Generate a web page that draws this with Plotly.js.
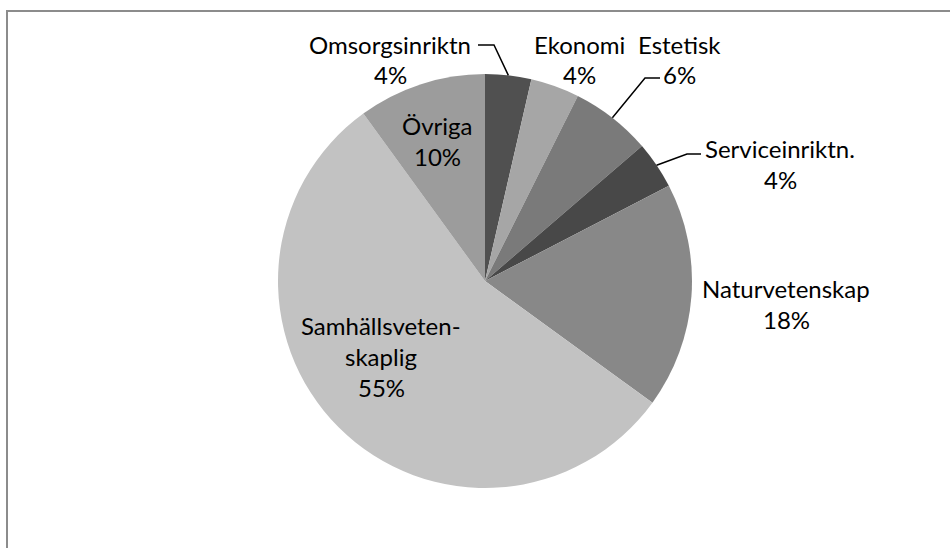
<!DOCTYPE html>
<html>
<head>
<meta charset="utf-8">
<script src="https://cdn.plot.ly/plotly-3.0.1.min.js"></script>
<style>html,body{margin:0;padding:0;background:#fff;overflow:hidden;width:950px;height:548px;}#chart{position:absolute;left:0;top:0;width:950px;height:548px;}</style>
</head>
<body>
<div id="chart"></div>
<script>
// ---- data ----
var categories = ['Omsorgsinriktn', 'Ekonomi', 'Estetisk', 'Serviceinriktn.', 'Naturvetenskap', 'Samhällsvetenskaplig', 'Övriga'];
var displayLabels = ['Omsorgsinriktn', 'Ekonomi', 'Estetisk', 'Serviceinriktn.', 'Naturvetenskap', 'Samhällsveten-<br>skaplig', 'Övriga'];
var shares = [3.6, 3.8, 6.3, 3.7, 17.6, 55, 10];
var sliceColors = ['#505050', '#a6a6a6', '#7a7a7a', '#484848', '#888888', '#c2c2c2', '#9c9c9c'];

// ---- layout constants (pixels) ----
var W = 950, H = 548;
var CX = 485, CY = 281, R = 207;
var FONT = 'Lato, "Open Sans", sans-serif';
var FS = 24, LINE = 31;
// label block position: center x, center y of first line
var labelPos = [
  [390, 44], [579, 44], [679, 44], [780, 149], [786, 288], [381, 325], [437, 125]
];
// leader lines: [elbow, end] for slices that have them
var leaders = {0: [[494, 45], [478, 45]], 2: [[645, 78], [660, 78]], 3: [[687, 154], [701, 154]]};

function px(x) { return x / W; }
function py(y) { return 1 - y / H; }

var total = shares.reduce(function (a, b) { return a + b; }, 0);

var trace = {
  type: 'pie',
  labels: categories,
  values: shares,
  sort: false,
  direction: 'clockwise',
  rotation: 0,
  marker: { colors: sliceColors, line: { width: 0 } },
  textinfo: 'none',
  hoverinfo: 'label+percent',
  showlegend: false,
  domain: { x: [px(CX - R), px(CX + R)], y: [py(CY + R), py(CY - R)] }
};

var annotations = [];
var shapes = [];
var cum = 0;
shares.forEach(function (v, i) {
  var mid = (cum + v / 2) / total * 2 * Math.PI;
  cum += v;
  var pct = Math.round(v / total * 100) + '%';
  var lines = displayLabels[i].split('<br>').concat([pct]);
  lines.forEach(function (t, k) {
    annotations.push({
      xref: 'paper', yref: 'paper',
      x: px(labelPos[i][0]), y: py(labelPos[i][1] + k * LINE),
      xanchor: 'center', yanchor: 'middle',
      text: t, showarrow: false,
      font: { family: FONT, size: FS, color: '#000' }
    });
  });
  if (leaders[i]) {
    var ax = CX + R * Math.sin(mid), ay = CY - R * Math.cos(mid);
    var e = leaders[i][0], f = leaders[i][1];
    shapes.push({
      type: 'path', xref: 'paper', yref: 'paper',
      path: 'M' + px(ax) + ',' + py(ay) + ' L' + px(e[0]) + ',' + py(e[1]) + ' L' + px(f[0]) + ',' + py(f[1]),
      line: { color: '#000', width: 1.5 }
    });
  }
});

// chart area frame: left and top edges (the rest lies outside the picture)
shapes.push({
  type: 'line', xref: 'paper', yref: 'paper',
  x0: px(7), x1: px(7), y0: -0.01, y1: py(11),
  line: { color: '#8c8c8c', width: 2 }
});
shapes.push({
  type: 'line', xref: 'paper', yref: 'paper',
  x0: px(6), x1: 1.01, y0: py(11), y1: py(11),
  line: { color: '#8c8c8c', width: 2 }
});

var layout = {
  width: W, height: H,
  margin: { l: 0, r: 0, t: 0, b: 0 },
  paper_bgcolor: '#ffffff',
  plot_bgcolor: '#ffffff',
  showlegend: false,
  annotations: annotations,
  shapes: shapes
};

Plotly.newPlot('chart', [trace], layout, { displayModeBar: false, staticPlot: true });
</script>
</body>
</html>
